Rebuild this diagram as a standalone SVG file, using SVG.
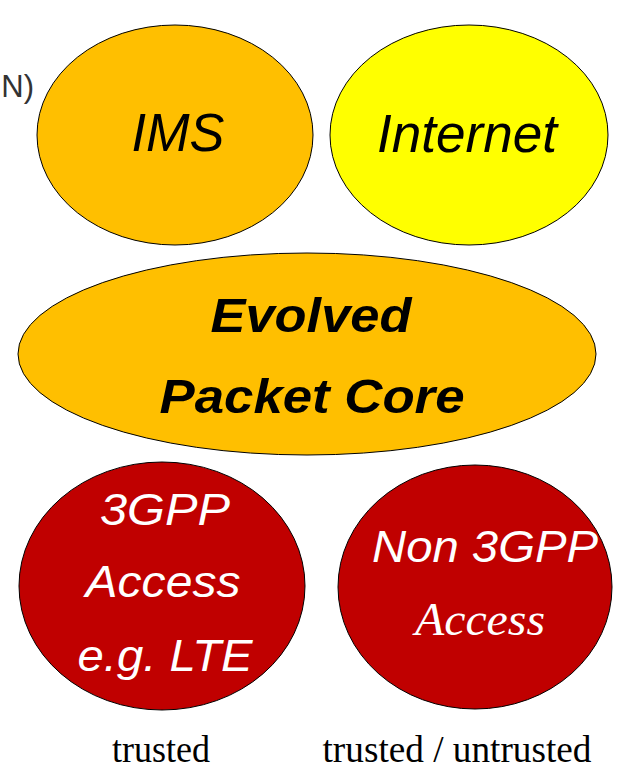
<svg xmlns="http://www.w3.org/2000/svg" width="617" height="767" viewBox="0 0 617 767">
<style>
.node{stroke:#000;stroke-width:1}
.orange{fill:#FFBF00}
.yellow{fill:#FFFF00}
.red{fill:#C00000}
.sans{font-family:"Liberation Sans",Arial,sans-serif}
.serif{font-family:"Liberation Serif","Times New Roman",serif}
.it{font-style:italic}
</style>
<rect width="617" height="767" fill="#fff"/>
<text class="sans" x="34" y="97" font-size="31" fill="#333" text-anchor="end">N)</text>
<g id="connectors"></g>
<g id="ims">
<ellipse class="node orange" cx="175" cy="135" rx="138" ry="110"/>
<text class="sans it" x="178" y="151" font-size="53" text-anchor="middle" textLength="93" lengthAdjust="spacingAndGlyphs">IMS</text>
</g>
<g id="internet">
<ellipse class="node yellow" cx="469" cy="135" rx="139" ry="110"/>
<text class="sans it" x="467" y="152" font-size="53" text-anchor="middle" textLength="180" lengthAdjust="spacingAndGlyphs">Internet</text>
</g>
<g id="epc">
<ellipse class="node orange" cx="307" cy="354" rx="289" ry="101"/>
<text class="sans it" x="311" y="332" font-size="49" font-weight="bold" text-anchor="middle" textLength="201" lengthAdjust="spacingAndGlyphs">Evolved</text>
<text class="sans it" x="312" y="413" font-size="49" font-weight="bold" text-anchor="middle" textLength="305" lengthAdjust="spacingAndGlyphs">Packet Core</text>
</g>
<g id="access3gpp">
<ellipse class="node red" cx="162" cy="586" rx="143" ry="124"/>
<g class="sans it" font-size="45" fill="#fff" text-anchor="middle">
<text x="165" y="525" textLength="130" lengthAdjust="spacingAndGlyphs">3GPP</text>
<text x="163" y="597" textLength="155" lengthAdjust="spacingAndGlyphs">Access</text>
<text x="165" y="671" textLength="175" lengthAdjust="spacingAndGlyphs">e.g. LTE</text>
</g>
</g>
<g id="accessnon3gpp">
<ellipse class="node red" cx="475" cy="587" rx="137" ry="122"/>
<text class="sans it" x="485" y="562" font-size="45" fill="#fff" text-anchor="middle" textLength="226" lengthAdjust="spacingAndGlyphs">Non 3GPP</text>
<text class="serif it" x="480" y="635" font-size="46" fill="#fff" text-anchor="middle" textLength="130" lengthAdjust="spacingAndGlyphs">Access</text>
</g>
<g id="labels" class="serif" font-size="37" fill="#000" text-anchor="middle">
<text x="161" y="762" textLength="98" lengthAdjust="spacingAndGlyphs">trusted</text>
<text x="457" y="762" textLength="269" lengthAdjust="spacingAndGlyphs">trusted / untrusted</text>
</g>
</svg>
